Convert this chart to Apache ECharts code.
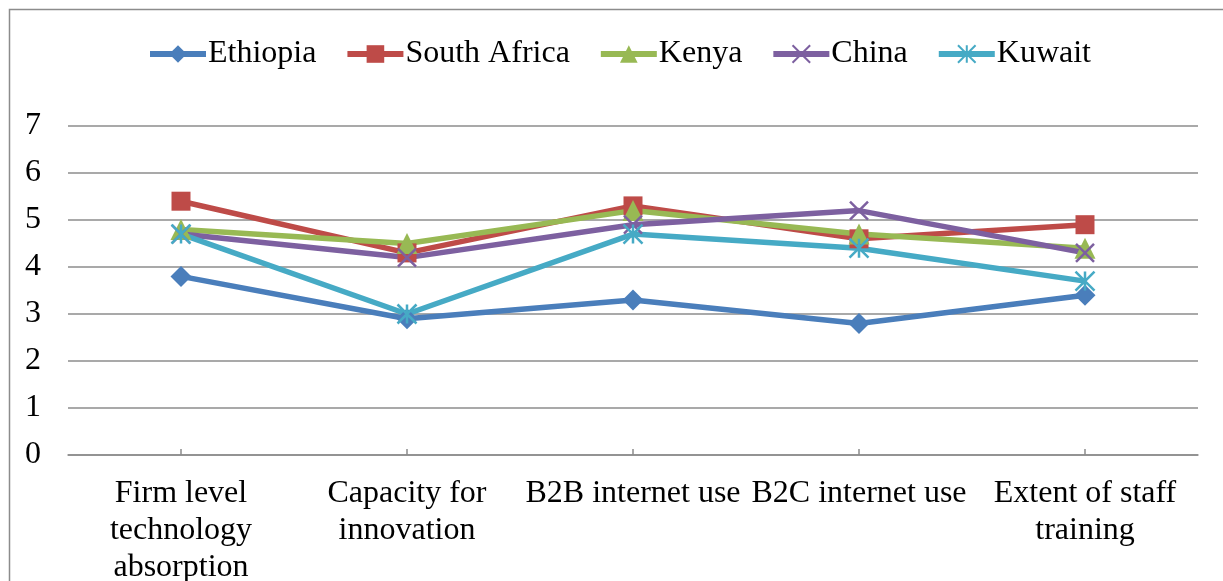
<!DOCTYPE html>
<html>
<head>
<meta charset="utf-8">
<script src="https://cdn.jsdelivr.net/npm/echarts@6/dist/echarts.min.js"></script>
<style>
  html, body { margin: 0; padding: 0; background: #fff; overflow: hidden; }
  #chart { width: 1223px; height: 581px; }
</style>
</head>
<body>
<div id="chart"></div>
<script>
// categories and values
const categories = [
  'Firm level\ntechnology\nabsorption',
  'Capacity for\ninnovation',
  'B2B internet use',
  'B2C internet use',
  'Extent of staff\ntraining'
];
const ethiopia = [3.8, 2.9, 3.3, 2.8, 3.4];
const southAfrica = [5.4, 4.3, 5.3, 4.6, 4.9];
const kenya = [4.8, 4.5, 5.2, 4.7, 4.4];
const china = [4.7, 4.2, 4.9, 5.2, 4.3];
const kuwait = [4.7, 3.0, 4.7, 4.4, 3.7];
const yTicks = [0, 1, 2, 3, 4, 5, 6, 7];

const FONT = '"Liberation Serif", "Times New Roman", serif';

function lineSeries(name, data, color, symbol, size, stroked) {
  return {
    name: name,
    type: 'line',
    data: data,
    symbol: symbol,
    symbolSize: size,
    showAllSymbol: true,
    lineStyle: { color: color, width: 5.5 },
    itemStyle: stroked
      ? { color: 'rgba(0,0,0,0)', borderColor: color, borderWidth: 2.5 }
      : { color: color, borderWidth: 0 },
    emphasis: { disabled: true },
    z: 3
  };
}

const chart = echarts.init(document.getElementById('chart'), null, { renderer: 'canvas' });

chart.setOption({
  animation: false,
  backgroundColor: '#fff',
  graphic: [{
    type: 'rect',
    shape: { x: 9.5, y: 9.5, width: 1400, height: 800 },
    style: { fill: 'none', stroke: '#8c8c8c', lineWidth: 1.5 },
    silent: true
  }],
  legend: {
    left: 142,
    top: 33,
    itemWidth: 56,
    itemHeight: 22,
    itemGap: 28,
    lineStyle: { width: 6 },
    textStyle: { fontFamily: FONT, fontSize: 32, color: '#000', padding: [0, 0, 0, -3] },
    data: ['Ethiopia', 'South Africa', 'Kenya', 'China', 'Kuwait']
  },
  // labels run past the bottom edge, so keep the grid where it is
  grid: { left: 68, right: 25, top: 126, bottom: 126, containLabel: false, outerBoundsMode: 'none' },
  xAxis: {
    type: 'category',
    data: categories,
    boundaryGap: true,
    axisLine: { lineStyle: { color: '#8c8c8c', width: 1.5 } },
    axisTick: { show: true, alignWithLabel: true, inside: true, length: 6, lineStyle: { color: '#8c8c8c', width: 1.5 } },
    axisLabel: {
      fontFamily: FONT, fontSize: 32, color: '#000',
      margin: 20, lineHeight: 37, interval: 0
    }
  },
  yAxis: {
    type: 'value',
    min: yTicks[0],
    max: yTicks[yTicks.length - 1],
    interval: 1,
    axisLine: { show: false },
    axisTick: { show: false },
    splitLine: { lineStyle: { color: '#8c8c8c', width: 1.5 } },
    axisLabel: { fontFamily: FONT, fontSize: 32, color: '#000', margin: 27, align: 'right' }
  },
  series: [
    lineSeries('Ethiopia', ethiopia, '#4A7EBB', 'diamond', 21, false),
    lineSeries('South Africa', southAfrica, '#BE4B48', 'rect', 19, false),
    lineSeries('Kenya', kenya, '#98B954', 'triangle', 21, false),
    lineSeries('China', china, '#7D60A0', 'path://M0,0L10,10M10,0L0,10', 18, true),
    lineSeries('Kuwait', kuwait, '#46AAC5', 'path://M5,0L5,10M0,0L10,10M10,0L0,10', 19, true)
  ]
});
</script>
</body>
</html>
